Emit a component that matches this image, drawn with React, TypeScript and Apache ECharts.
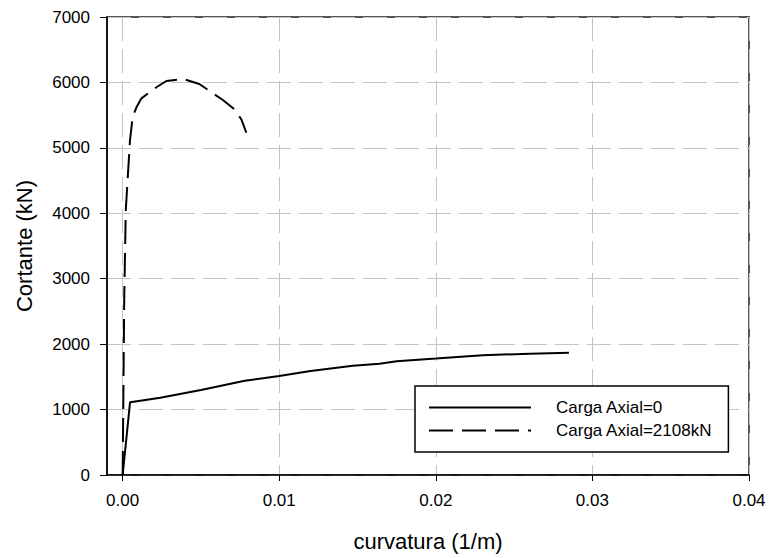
import React, { useEffect, useRef } from "react";
import * as echarts from "echarts";

const seriesNames = ["Carga Axial=0", "Carga Axial=2108kN"];
const curvatureAxial0 = [0, 0.00047, 0.0007, 0.0024, 0.005, 0.0078, 0.01, 0.012, 0.0147, 0.0164, 0.0175, 0.02, 0.023, 0.026, 0.0285];
const shearAxial0 = [0, 1111, 1120, 1182, 1300, 1441, 1513, 1590, 1671, 1700, 1740, 1780, 1830, 1855, 1869];
const curvatureAxial2108 = [0, 0.0001, 0.0002, 0.00047, 0.00064, 0.0009, 0.0012, 0.0022, 0.0028, 0.0039, 0.0049, 0.0064, 0.0072, 0.0076, 0.0079];
const shearAxial2108 = [0, 2700, 4050, 5120, 5476, 5629, 5757, 5934, 6022, 6052, 5976, 5731, 5579, 5425, 5231];
const xTicks = [0, 0.01, 0.02, 0.03, 0.04];

const FONT = "Liberation Sans, Arial, sans-serif";

export default function App() {
  const ref = useRef<HTMLDivElement>(null);
  useEffect(() => {
    if (!ref.current) return;
    const chart = echarts.init(ref.current, null, { renderer: "svg" });
    const gridLine = { show: true, lineStyle: { color: "#c4c4c4", type: [24, 8] as any, width: 1 } };
    chart.setOption({
      animation: false,
      backgroundColor: "#fff",
      grid: { left: 107, top: 17, right: 22, bottom: 83, show: true, borderColor: "#555", borderWidth: 2, backgroundColor: "transparent" },
      xAxis: {
        type: "value",
        min: -0.001,
        max: 0.04,
        name: "curvatura (1/m)",
        nameLocation: "middle",
        nameGap: 55,
        nameTextStyle: { fontFamily: FONT, fontSize: 22, color: "#000" },
        axisLine: { show: true, onZero: false, lineStyle: { color: "#000", width: 1.5 } },
        axisTick: { show: true, inside: false, length: 6, customValues: xTicks, lineStyle: { color: "#000" } },
        axisLabel: { customValues: xTicks, margin: 17, fontFamily: FONT, fontSize: 17, color: "#000", formatter: (v: number) => v.toFixed(2) },
        splitLine: gridLine,
      },
      yAxis: {
        type: "value",
        min: 0,
        max: 7000,
        interval: 1000,
        name: "Cortante (kN)",
        nameLocation: "middle",
        nameGap: 72,
        nameTextStyle: { fontFamily: FONT, fontSize: 22, color: "#000" },
        axisLine: { show: true, onZero: false, lineStyle: { color: "#000", width: 1.5 } },
        axisTick: { show: true, inside: false, length: 7, lineStyle: { color: "#000" } },
        axisLabel: { margin: 17, fontFamily: FONT, fontSize: 17, color: "#000", formatter: (v: number) => String(v) },
        splitLine: gridLine,
      },
      legend: {
        orient: "vertical",
        left: 415,
        top: 386,
        padding: [13, 16, 13, 13],
        itemGap: 6,
        itemWidth: 102,
        itemHeight: 17,
        borderColor: "#000",
        borderWidth: 1.5,
        backgroundColor: "#fff",
        itemStyle: { color: "rgba(0,0,0,0)", borderWidth: 0, opacity: 0 },
        formatter: (n: string) => `{s|}${n}`,
        textStyle: { fontFamily: FONT, fontSize: 17, color: "#000", rich: { s: { width: 20 } } },
        data: seriesNames,
      },
      series: [
        {
          name: seriesNames[0],
          type: "line",
          showSymbol: false,
          symbol: "none",
          data: curvatureAxial0.map((x, i) => [x, shearAxial0[i]]),
          lineStyle: { color: "#000", width: 2 },
          itemStyle: { color: "#000" },
        },
        {
          name: seriesNames[1],
          type: "line",
          showSymbol: false,
          symbol: "none",
          data: curvatureAxial2108.map((x, i) => [x, shearAxial2108[i]]),
          lineStyle: { color: "#000", width: 2, type: [24, 9] as any },
          itemStyle: { color: "#000" },
        },
      ],
    });
    return () => chart.dispose();
  }, []);
  return <div ref={ref} style={{ width: 771, height: 558, position: "absolute", left: 0, top: 0 }} />;
}
